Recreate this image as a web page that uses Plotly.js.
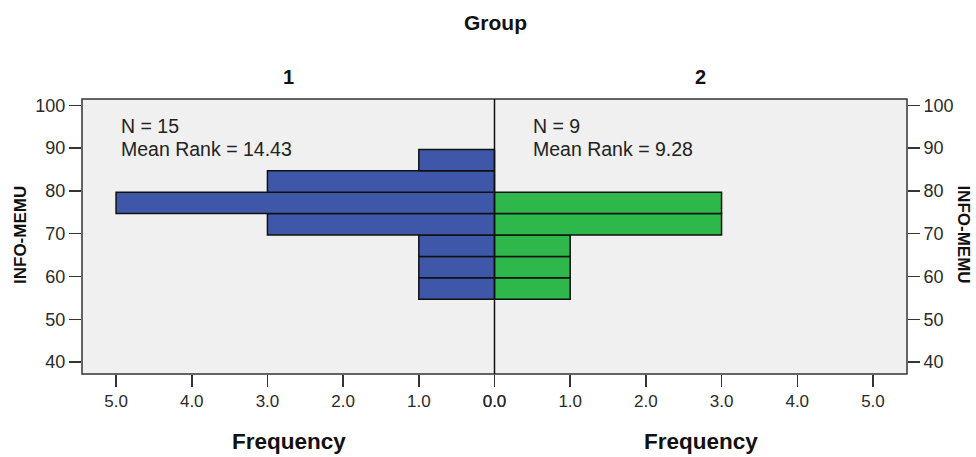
<!DOCTYPE html>
<html>
<head>
<meta charset="utf-8">
<script src="https://cdn.plot.ly/plotly-3.0.1.min.js"></script>
<style>html,body{margin:0;padding:0;background:#fff;}#chart{width:976px;height:457px;}</style>
</head>
<body>
<div id="chart"></div>
<script>
// Bin centers of INFO-MEMU (bin width 5)
const binCenters = [57.2, 62.2, 67.2, 72.2, 77.2, 82.2, 87.2];
const group1Freq = [1, 1, 1, 3, 5, 3, 1];
const group2Freq = [1, 1, 1, 3, 3, 0, 0];
const groupNames = ["1", "2"];
const groupN = [15, 9];
const meanRanks = ["14.43", "9.28"];
const xTicks = [0, 1, 2, 3, 4, 5];
const yTicks = [40, 50, 60, 70, 80, 90, 100];

const W = 976, H = 457;
const L = 81.7, R = 906.7, T = 99.3, B = 374.3;
const pw = R - L, ph = B - T;
const px = x => (x - L) / pw;
const py = y => (B - y) / ph;

const font = "Liberation Sans, Arial, sans-serif";
const lineCol = "#333333";

const traces = [
  {type: "bar", orientation: "h", y: binCenters, x: group1Freq, width: 5,
   xaxis: "x", yaxis: "y",
   marker: {color: "#3e57a9", line: {color: "#111", width: 1.5}}, hoverinfo: "x+y"},
  {type: "bar", orientation: "h", y: binCenters, x: group2Freq, width: 5,
   xaxis: "x2", yaxis: "y",
   marker: {color: "#2eb84b", line: {color: "#111", width: 1.5}}, hoverinfo: "x+y"}
];

const axCommon = {
  tickvals: xTicks, tickformat: ".1f", ticks: "outside", ticklen: 12, tickwidth: 1.5,
  tickcolor: lineCol, showgrid: false, zeroline: false, showline: false,
  tickfont: {family: font, size: 17, color: "#2a2a2a"}, fixedrange: true
};

const statFont = {family: font, size: 19.5, color: "#222"};

const layout = {
  width: W, height: H,
  margin: {l: L, r: W - R, t: T, b: H - B, pad: 0},
  paper_bgcolor: "#ffffff", plot_bgcolor: "#f0f0f0",
  showlegend: false, bargap: 0,
  xaxis: Object.assign({}, axCommon, {domain: [0, 0.5], range: [5.45, 0], anchor: "y"}),
  xaxis2: Object.assign({}, axCommon, {domain: [0.5, 1], range: [0, 5.45], anchor: "y"}),
  yaxis: {range: [37.2, 101.5], tickvals: yTicks, ticks: "outside", ticklen: 12, tickwidth: 1.5,
    tickcolor: lineCol, showgrid: false, zeroline: false, showline: false,
    tickfont: {family: font, size: 18, color: "#2a2a2a"}, fixedrange: true},
  yaxis2: {range: [37.2, 101.5], tickvals: yTicks, ticks: "outside", ticklen: 12, tickwidth: 1.5,
    tickcolor: lineCol, showgrid: false, zeroline: false, showline: false, overlaying: "y",
    side: "right", anchor: "x2", tickfont: {family: font, size: 18, color: "#2a2a2a"}, fixedrange: true},
  shapes: [
    {type: "rect", xref: "paper", yref: "paper", x0: 0, x1: 1, y0: 0, y1: 1,
     line: {color: lineCol, width: 1.5}, fillcolor: "rgba(0,0,0,0)"},
    {type: "line", xref: "paper", yref: "paper", x0: 0.5, x1: 0.5, y0: 0, y1: 1,
     line: {color: "#111", width: 1.5}}
  ],
  annotations: [
    {text: "<b>Group</b>", xref: "paper", yref: "paper", x: px(495), y: py(23), showarrow: false,
     xanchor: "center", yanchor: "middle", font: {family: font, size: 21, color: "#111"}},
    {text: "<b>" + groupNames[0] + "</b>", xref: "paper", yref: "paper", x: px(288), y: py(77), showarrow: false,
     xanchor: "center", yanchor: "middle", font: {family: font, size: 20, color: "#111"}},
    {text: "<b>" + groupNames[1] + "</b>", xref: "paper", yref: "paper", x: px(700), y: py(77), showarrow: false,
     xanchor: "center", yanchor: "middle", font: {family: font, size: 20, color: "#111"}},
    {text: "<b>Frequency</b>", xref: "paper", yref: "paper", x: px(289), y: py(442), showarrow: false,
     xanchor: "center", yanchor: "middle", font: {family: font, size: 22.5, color: "#111"}},
    {text: "<b>Frequency</b>", xref: "paper", yref: "paper", x: px(701), y: py(442), showarrow: false,
     xanchor: "center", yanchor: "middle", font: {family: font, size: 22.5, color: "#111"}},
    {text: "<b>INFO-MEMU</b>", xref: "paper", yref: "paper", x: px(20), y: py(235), showarrow: false,
     textangle: -90, xanchor: "center", yanchor: "middle", font: {family: font, size: 17, color: "#111"}},
    {text: "<b>INFO-MEMU</b>", xref: "paper", yref: "paper", x: px(963), y: py(235), showarrow: false,
     textangle: 90, xanchor: "center", yanchor: "middle", font: {family: font, size: 17, color: "#111"}},
    {text: "N = " + groupN[0], xref: "paper", yref: "paper", x: px(120), y: py(126.5), showarrow: false,
     xanchor: "left", yanchor: "middle", borderpad: 0, font: statFont},
    {text: "Mean Rank = " + meanRanks[0], xref: "paper", yref: "paper", x: px(120), y: py(149.5), showarrow: false,
     xanchor: "left", yanchor: "middle", borderpad: 0, font: statFont},
    {text: "N = " + groupN[1], xref: "paper", yref: "paper", x: px(532), y: py(126.5), showarrow: false,
     xanchor: "left", yanchor: "middle", borderpad: 0, font: statFont},
    {text: "Mean Rank = " + meanRanks[1], xref: "paper", yref: "paper", x: px(532), y: py(149.5), showarrow: false,
     xanchor: "left", yanchor: "middle", borderpad: 0, font: statFont}
  ]
};

// invisible helper trace so the right-hand y axis is drawn
traces.push({type: "scatter", x: [0], y: [50], xaxis: "x2", yaxis: "y2", mode: "markers",
  marker: {opacity: 0}, hoverinfo: "skip"});

Plotly.newPlot("chart", traces, layout, {displayModeBar: false, staticPlot: true});
</script>
</body>
</html>
